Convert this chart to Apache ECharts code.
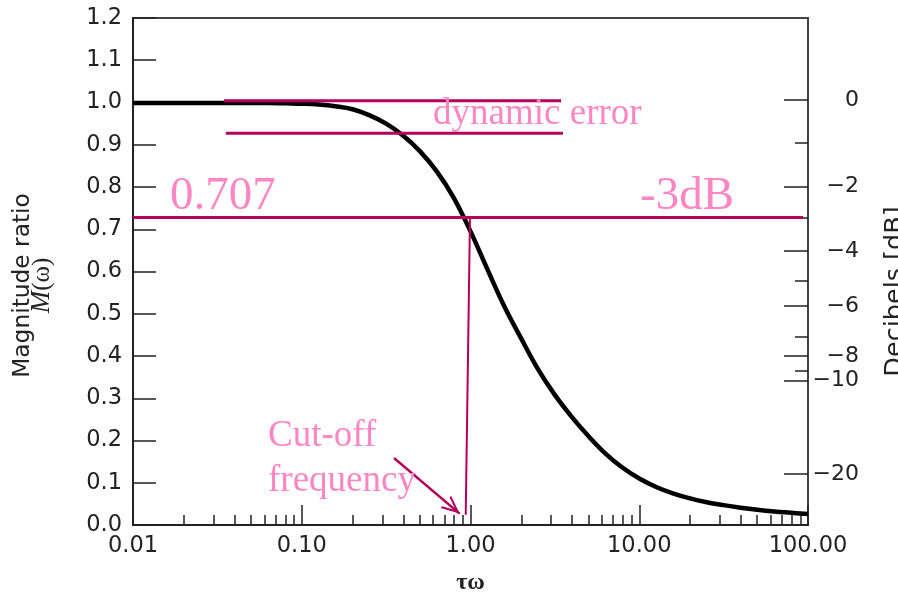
<!DOCTYPE html>
<html>
<head>
<meta charset="utf-8">
<script src="https://cdn.jsdelivr.net/npm/echarts@6/dist/echarts.min.js"></script>
<style>
  html, body { margin: 0; padding: 0; background: #ffffff; }
  #chart { width: 898px; height: 592px; }
</style>
</head>
<body>
<div id="chart"></div>
<script>
// ---- data ----
const tauOmega  = [0.01, 0.0126, 0.0158, 0.02, 0.0251, 0.0316, 0.0398, 0.0501, 0.0631, 0.0794,
                   0.1, 0.126, 0.158, 0.2, 0.251, 0.316, 0.398, 0.501, 0.631, 0.794,
                   1.0, 1.26, 1.58, 2.0, 2.51, 3.16, 3.98, 5.01, 6.31, 7.94,
                   10, 12.6, 15.8, 20, 25.1, 31.6, 39.8, 50.1, 63.1, 79.4, 100];
const magnitude = [0.999, 0.999, 0.999, 0.999, 0.999, 0.999, 0.999, 0.999, 0.999, 0.998,
                   0.997, 0.995, 0.991, 0.984, 0.970, 0.950, 0.922, 0.885, 0.837, 0.775,
                   0.695, 0.605, 0.519, 0.441, 0.369, 0.308, 0.256, 0.210, 0.169, 0.136,
                   0.110, 0.090, 0.075, 0.063, 0.054, 0.047, 0.041, 0.036, 0.032, 0.029, 0.026];

const xMajorTicks = [0.01, 0.1, 1, 10, 100];
const xMinorTicks = [0.02,0.03,0.04,0.05,0.06,0.07,0.08,0.09, 0.2,0.3,0.4,0.5,0.6,0.7,0.8,0.9, 2,3,4,5,6,7,8,9, 20,30,40,50,60,70,80,90];

const dbLabels   = ['0', '\u22122', '\u22124', '\u22126', '\u22128', '\u221210', '\u221220'];
const dbMajorPos = [1.006, 0.801, 0.649, 0.518, 0.400, 0.342, 0.121];
const dbMinorPos = [0.905, 0.727, 0.578, 0.446, 0.365];

const dynErrUpperX = [0.0346, 3.44];
const dynErrLowerX = [0.0355, 3.53];
const dynErrLevels = [1.004, 0.927];
const cutoffLineX  = [0.01, 93.5];
const cutoffLevel  = 0.728;
const cutoffVertX  = [0.993, 0.937];
const cutoffVertY  = [0.728, 0.024];
const arrowX       = [0.352, 0.862];
const arrowY       = [0.1586, 0.027];

const annoTexts = ['0.707', '-3dB', 'dynamic error', 'Cut-off\nfrequency'];

// ---- styles ----
const crimson = '#b5005b';
const pink = '#ff86c3';
const axisColor = '#222';
const labelFont = 'DejaVu Sans';
const serif = 'Liberation Serif';

const chart = echarts.init(document.getElementById('chart'), null, { renderer: 'canvas' });

function pair(xs, ys) { return xs.map((x, i) => [x, ys[i]]); }

const option = {
  animation: false,
  backgroundColor: '#ffffff',
  grid: {
    left: 133, right: 90, top: 18, bottom: 67,
    outerBoundsMode: 'none', containLabel: false,
    show: true, borderColor: '#444', borderWidth: 2, backgroundColor: 'transparent'
  },
  xAxis: [
    {
      type: 'log', logBase: 10, min: 0.01, max: 100, position: 'bottom',
      name: '\u03c4\u03c9', nameLocation: 'middle', nameGap: 46, nameMoveOverlap: false,
      nameTextStyle: { fontFamily: serif, fontWeight: 'bold', fontSize: 24, color: axisColor },
      axisLine: { show: true, lineStyle: { color: axisColor, width: 2 } },
      axisTick: { show: true, inside: true, length: 20, customValues: xMajorTicks, lineStyle: { color: axisColor, width: 1.5 } },
      axisLabel: {
        show: true, customValues: xMajorTicks, margin: 10,
        fontFamily: labelFont, fontSize: 22.5, color: axisColor,
        formatter: v => (Math.abs(v - 0.01) < 1e-9 ? '0.01' : Number(v).toFixed(2))
      },
      splitLine: { show: false }
    },
    {
      type: 'log', logBase: 10, min: 0.01, max: 100, position: 'bottom', offset: 0,
      axisLine: { show: false },
      axisTick: { show: true, inside: true, length: 10, customValues: xMinorTicks, lineStyle: { color: axisColor, width: 1.5 } },
      axisLabel: { show: false },
      splitLine: { show: false }
    }
  ],
  yAxis: [
    {
      type: 'value', min: 0, max: 1.2, interval: 0.1, position: 'left',
      name: '{a|Magnitude ratio}\n{b|M}{c|(\u03c9)}', nameLocation: 'middle', nameGap: 81, nameRotate: 90, nameMoveOverlap: false,
      nameTextStyle: {
        color: axisColor, padding: [0, 28, 0, 0],
        rich: {
          a: { fontFamily: labelFont, fontSize: 23.3, color: axisColor, lineHeight: 18 },
          b: { fontFamily: serif, fontStyle: 'italic', fontSize: 27, color: axisColor, lineHeight: 20 },
          c: { fontFamily: serif, fontSize: 25, color: axisColor, lineHeight: 20 }
        }
      },
      axisLine: { show: true, lineStyle: { color: axisColor, width: 2 } },
      axisTick: { show: true, inside: true, length: 23, lineStyle: { color: axisColor, width: 1.5 } },
      axisLabel: { margin: 11, fontFamily: labelFont, fontSize: 22.5, color: axisColor, formatter: v => v.toFixed(1) },
      splitLine: { show: false }
    },
    {
      type: 'value', min: 0, max: 1.2, position: 'right',
      name: 'Decibels [dB]', nameLocation: 'middle', nameGap: 74, nameRotate: 90, nameMoveOverlap: false,
      nameTextStyle: { fontFamily: labelFont, fontSize: 25.5, color: axisColor, padding: [0, 40, 0, 0] },
      axisLine: { show: true, lineStyle: { color: '#444', width: 2 } },
      axisTick: { show: true, inside: true, length: 24, customValues: dbMajorPos, lineStyle: { color: axisColor, width: 1.5 } },
      axisLabel: {
        show: true, customValues: dbMajorPos, margin: 51, align: 'right',
        fontFamily: labelFont, fontSize: 22, color: axisColor,
        formatter: v => {
          let best = 0;
          dbMajorPos.forEach((p, i) => { if (Math.abs(p - v) < Math.abs(dbMajorPos[best] - v)) best = i; });
          return dbLabels[best];
        }
      },
      splitLine: { show: false }
    },
    {
      type: 'value', min: 0, max: 1.2, position: 'right', offset: 0,
      axisLine: { show: false },
      axisTick: { show: true, inside: true, length: 13, customValues: dbMinorPos, lineStyle: { color: axisColor, width: 1.5 } },
      axisLabel: { show: false },
      splitLine: { show: false }
    }
  ],
  series: [
    {
      name: 'M', type: 'line', xAxisIndex: 0, yAxisIndex: 0, smooth: 0.4, symbol: 'none',
      lineStyle: { color: '#000', width: 4.5 },
      data: pair(tauOmega, magnitude), z: 2
    },
    {
      type: 'line', symbol: 'none', lineStyle: { color: crimson, width: 3 }, z: 3,
      data: dynErrUpperX.map(x => [x, dynErrLevels[0]])
    },
    {
      type: 'line', symbol: 'none', lineStyle: { color: crimson, width: 3 }, z: 3,
      data: dynErrLowerX.map(x => [x, dynErrLevels[1]])
    },
    {
      type: 'line', symbol: 'none', lineStyle: { color: crimson, width: 3 }, z: 3,
      data: cutoffLineX.map(x => [x, cutoffLevel])
    },
    {
      type: 'line', symbol: 'none', lineStyle: { color: crimson, width: 2 }, z: 3,
      data: pair(cutoffVertX, cutoffVertY),
      markLine: {
        silent: true, animation: false,
        symbol: ['none', 'path://M50,0 L100,100 L86,100 L50,28 L14,100 L0,100 Z'],
        symbolSize: [16, 18],
        symbolOffset: [0, [0, 9]],
        label: { show: false },
        lineStyle: { color: crimson, width: 2.5, type: 'solid' },
        emphasis: { disabled: true },
        data: [[{ coord: [arrowX[0], arrowY[0]] }, { coord: [arrowX[1], arrowY[1]] }]]
      },
      markPoint: {
        silent: true, symbol: 'circle', symbolSize: 0,
        label: { show: true, position: 'inside', align: 'left', verticalAlign: 'middle', color: pink, fontFamily: serif },
        data: [
          { coord: [0.01657, 0.7775], label: { formatter: annoTexts[0], fontSize: 47 } },
          { coord: [10.1, 0.7775],    label: { formatter: annoTexts[1], fontSize: 47 } },
          { coord: [0.6, 0.971],      label: { formatter: annoTexts[2], fontSize: 37 } },
          { coord: [0.0631, 0.157],   label: { formatter: annoTexts[3], fontSize: 37, lineHeight: 45 } }
        ]
      }
    }
  ]
};

chart.setOption(option);
</script>
</body>
</html>
